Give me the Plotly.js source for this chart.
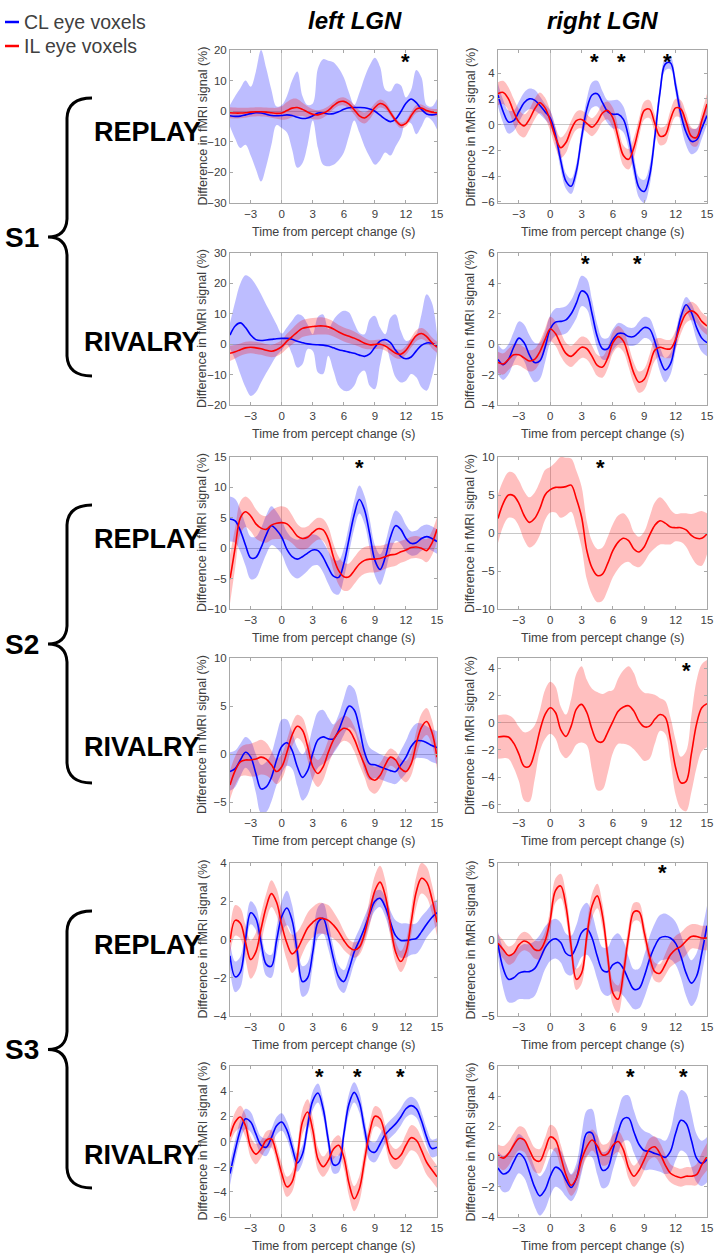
<!DOCTYPE html>
<html><head><meta charset="utf-8">
<script src="https://cdn.plot.ly/plotly-3.0.1.min.js"></script>
<style>html,body{margin:0;padding:0;background:#fff}#chart{width:715px;height:1253px}</style>
</head><body><div id="chart"></div>
<script>
// ---------------- DATA ----------------
const timeS = [-5,-4.5,-4,-3.5,-3,-2.5,-2,-1.5,-1,-0.5,0,0.5,1,1.5,2,2.5,3,3.5,4,4.5,5,5.5,6,6.5,7,7.5,8,8.5,9,9.5,10,10.5,11,11.5,12,12.5,13,13.5,14,14.5,15];
const xTickVals = [-3,0,3,6,9,12,15];

// S1 REPLAY left LGN
const s1ReplayLeftCL   = [-1.5,-1.7,-1.6,-1.2,-0.8,-0.5,-0.6,-1.0,-1.4,-1.5,-1.4,-1.2,-1.4,-2.0,-2.4,-2.2,-1.5,-0.6,-0.6,-0.9,-0.8,-0.2,0.6,1.1,1.2,1.2,1.1,0.7,0.0,-1.3,-2.6,-3.4,-2.6,-0.2,2.6,4.0,2.8,0.6,-0.9,-1.2,-0.9];
const s1ReplayLeftCLHi = [2,5,7.5,10,8,13,20,14,7,1.5,2,5,10,13,5,2,2.5,14,17,16.5,16,14,11,6,2,6,11,15,17.5,14.5,7,6.5,9,8.5,4.5,7,13.5,11,2,1.5,4];
const s1ReplayLeftCLLo = [-5,-9,-12,-11,-14.5,-19,-23,-18,-11,-4.5,-5.5,-7,-12.5,-18.5,-17,-11,-3,-12,-17.5,-18,-17.5,-16,-13.5,-8,-3,-7,-11.5,-15,-17.5,-16,-13.5,-14.5,-11.5,-8.5,-3.5,-4,-7.5,-5,-2,-3,-6];
const s1ReplayLeftIL   = [-0.5,-0.6,-0.6,-0.5,-0.3,-0.2,-0.2,-0.3,-0.5,-0.7,-0.6,0.2,1.0,1.2,0.6,-0.3,-1.0,-1.2,-0.7,0.3,1.8,3.0,3.2,2.3,0.5,-1.5,-2.2,-1.0,1.2,2.5,1.8,-0.5,-3.0,-4.6,-4.0,-1.5,0.7,1.0,0.2,-0.3,-0.5];
const s1ReplayLeftILErr= [1.8,1.8,1.7,1.6,1.5,1.5,1.5,1.5,1.6,1.8,2.2,2.8,3.0,2.8,2.2,1.8,1.6,1.5,1.4,1.3,1.2,1.2,1.3,1.4,1.6,1.8,1.8,1.6,1.4,1.3,1.2,1.0,0.9,0.9,1.0,1.2,1.3,1.2,1.1,1.1,1.2];

// S1 REPLAY right LGN
const s1ReplayRightCL   = [2.3,1.0,0.2,0.3,1.0,1.7,2.0,1.9,1.5,1.0,0.5,-0.8,-2.8,-4.4,-4.8,-3.6,-1.0,1.2,2.3,2.4,1.7,1.0,0.8,0.8,0.4,-1.0,-3.2,-4.9,-5.2,-4.0,-1.0,2.5,4.7,4.8,3.0,0.8,-0.6,-1.3,-1.2,-0.3,0.7];
const s1ReplayRightCLErr= [0.9,0.9,0.9,0.8,0.8,0.8,0.8,0.8,0.7,0.6,0.6,0.6,0.7,0.6,0.6,0.6,0.7,0.8,1.0,1.0,0.9,0.9,1.1,1.1,1.0,0.9,0.8,0.8,0.9,0.8,0.7,0.6,0.5,0.5,0.6,0.8,1.0,1.0,0.9,0.8,0.7];
const s1ReplayRightIL   = [2.4,2.5,2.0,1.0,0.2,-0.1,0.4,1.2,1.7,1.3,0.3,-1.0,-1.8,-1.4,-0.4,0.3,0.4,0.1,-0.2,0.2,0.9,1.1,0.5,-1.0,-2.4,-2.7,-1.8,-0.2,1.1,1.2,0.1,-0.9,-0.8,0.4,1.3,1.2,0.2,-0.9,-1.0,0.3,1.6];
const s1ReplayRightILErr= [0.9,0.9,0.9,1.0,1.0,0.9,0.8,0.8,0.8,0.8,0.8,0.8,0.8,0.8,0.7,0.7,0.7,0.7,0.7,0.7,0.7,0.7,0.8,0.8,0.8,0.8,0.8,0.7,0.7,0.7,0.7,0.7,0.7,0.7,0.7,0.7,0.7,0.7,0.7,0.7,0.8];

// S1 RIVALRY left LGN
const s1RivalryLeftCL   = [3.0,6.0,7.0,5.5,3.0,1.5,1.2,1.4,1.6,1.8,1.9,1.9,1.6,1.0,0.5,0.1,-0.1,-0.2,-0.3,-0.6,-1.2,-1.8,-2.2,-2.6,-3.0,-3.6,-4.0,-3.2,-1.0,1.0,1.5,0.5,-2.0,-4.0,-4.8,-4.2,-2.2,-0.4,0.4,0.3,-0.5];
const s1RivalryLeftCLHi = [7,14,20,22.7,21.8,19.5,16.4,13,9.8,6.5,3.5,5.5,7.7,9.8,9.3,6.5,3.3,9,9.8,5,8,10,11,10.4,7,3.8,3.3,8.2,9.3,5.5,3.3,8.7,9.8,4.4,1.1,1.6,3.3,9.8,16.4,13.7,3.3];
const s1RivalryLeftCLLo = [-1.6,-5,-9.8,-14.2,-17,-15.8,-12.6,-9.5,-6.6,-3.8,-2,0,-3.3,-7.7,-6.6,-1.6,-2.2,-9.3,-9.8,-3.8,-8.7,-13.7,-15.3,-15.3,-13.7,-9.8,-8.7,-13.7,-14.8,-6.6,0,-5.5,-10.9,-12.6,-12,-9.8,-10.9,-14.2,-15.3,-10.9,-2.7];
const s1RivalryLeftIL   = [-3.0,-2.5,-1.8,-1.2,-1.0,-1.2,-1.5,-2.0,-2.3,-1.8,-0.8,1.0,2.5,4.0,5.2,5.6,5.8,6.0,6.0,5.7,5.0,4.0,3.2,2.6,2.0,1.2,0.3,-0.2,-0.1,0.0,-0.6,-1.8,-3.0,-3.3,-2.0,0.5,2.8,3.5,2.5,0.5,-1.0];
const s1RivalryLeftILErr= [2.5,2.2,2.0,2.0,2.0,2.0,2.0,2.0,2.0,2.2,2.2,2.4,2.6,2.8,2.8,2.8,2.8,2.8,2.8,2.6,2.5,2.3,2.3,2.3,2.2,2.0,1.8,1.5,1.5,1.5,1.5,1.5,1.5,1.5,1.5,1.6,1.8,1.8,1.8,1.8,1.8];

// S1 RIVALRY right LGN
const s1RivalryRightCL   = [-1.0,-1.35,-1.0,-0.2,0.4,0.1,-0.7,-1.2,-1.1,-0.2,1.0,1.45,1.5,1.6,2.0,2.7,3.5,3.3,2.0,0.5,-0.3,-0.3,0.3,0.7,0.7,0.5,0.5,0.8,1.1,1.0,0.2,-1.0,-1.7,-1.3,0.2,1.8,2.6,2.1,1.1,0.4,0.1];
const s1RivalryRightCLErr= [1.0,1.0,1.0,1.0,1.1,1.2,1.3,1.3,1.2,1.0,0.9,0.9,0.9,0.9,0.9,1.0,1.0,1.0,0.9,0.8,0.7,0.7,0.7,0.7,0.6,0.6,0.6,0.7,0.7,0.7,0.7,0.8,0.8,0.7,0.6,0.5,0.5,0.6,0.8,0.9,0.9];
const s1RivalryRightIL   = [-1.2,-1.3,-1.0,-0.7,-0.7,-0.9,-1.1,-1.0,-0.5,0.3,1.0,0.7,0.0,-0.6,-0.8,-0.5,-0.2,-0.3,-0.8,-1.4,-1.5,-0.9,0.1,0.5,0.2,-0.8,-1.9,-2.5,-2.3,-1.4,-0.4,-0.2,-0.3,-0.3,0.3,1.3,2.0,2.2,2.0,1.5,1.2];
const s1RivalryRightILErr= [0.7,0.7,0.7,0.7,0.7,0.7,0.7,0.7,0.7,0.7,0.8,0.8,0.8,0.7,0.7,0.7,0.7,0.7,0.7,0.7,0.7,0.7,0.7,0.7,0.7,0.7,0.7,0.7,0.7,0.7,0.7,0.6,0.6,0.6,0.6,0.6,0.6,0.6,0.6,0.6,0.6];

// S2 REPLAY left LGN
const s2ReplayLeftCL   = [4.8,4.5,2.9,0.5,-1.6,-1.5,0.1,2.2,3.7,3.0,1.8,-0.2,-1.4,-1.8,-1.4,-0.8,-0.3,-0.4,-1.5,-3.2,-4.6,-4.8,-2.5,1.5,5.5,8.0,6.3,2.3,-2.0,-3.5,-1.5,1.8,3.7,3.1,1.6,0.8,0.9,1.6,1.9,1.6,1.1];
const s2ReplayLeftCLErr= [3.7,3.6,3.5,3.4,3.5,3.4,3.2,3.2,3.2,3.0,2.8,2.9,3.1,3.2,3.1,2.9,2.6,2.4,2.5,2.7,2.8,2.8,2.5,2.3,2.3,2.3,2.3,2.4,2.5,2.5,2.4,2.4,2.5,2.4,2.2,2.0,2.0,2.0,2.0,2.0,2.0];
const s2ReplayLeftIL   = [-5.1,0.1,5.0,6.0,5.3,4.0,3.3,3.1,3.8,4.1,4.2,4.0,3.1,2.0,1.6,1.8,2.6,3.2,3.0,1.5,-1.5,-3.7,-4.7,-4.7,-3.7,-2.6,-2.0,-1.8,-1.8,-1.7,-1.4,-1.1,-1.0,-0.6,-0.3,0.1,0.2,0.0,-0.4,0.8,3.1];
const s2ReplayLeftILErr= [4.0,3.3,2.7,2.5,2.5,2.4,2.2,2.2,2.4,2.6,2.7,2.6,2.3,2.0,1.8,1.8,1.8,1.8,1.8,2.0,2.2,2.3,2.3,2.2,2.2,2.2,2.2,2.2,2.2,2.1,2.0,2.0,1.9,1.8,1.8,1.8,1.8,1.8,1.9,2.0,2.0];

// S2 REPLAY right LGN (IL only)
const s2ReplayRightIL   = [1.9,3.9,5.0,4.9,3.9,2.3,1.4,1.9,3.2,5.0,5.7,6.0,6.0,6.1,6.3,4.5,2.1,-2.3,-4.6,-5.6,-5.4,-4.0,-2.3,-1.2,-0.7,-1.0,-2.1,-2.5,-1.8,-0.3,1.0,1.6,1.3,0.8,0.7,0.7,0.4,-0.3,-0.7,-0.7,-0.1];
const s2ReplayRightILErr= [3.2,3.0,3.0,3.0,3.0,3.2,3.3,3.4,3.5,3.3,3.0,3.3,4.0,3.8,3.5,3.7,4.0,3.8,3.5,3.5,3.5,3.5,3.5,3.5,3.3,2.8,2.2,2.0,2.0,2.4,3.0,3.1,2.8,2.3,1.8,1.9,2.2,2.8,3.4,3.6,2.7];

// S2 RIVALRY left LGN
const s2RivalryLeftCL   = [-1.8,-1.5,-0.6,0.2,-0.3,-2.0,-3.6,-3.4,-2.4,-0.6,0.8,1.2,0.4,-1.3,-2.4,-1.7,0.1,1.5,1.8,1.6,1.6,2.5,3.9,5.0,4.6,2.7,0.2,-1.0,-1.1,-1.3,-1.5,-1.7,-1.8,-1.1,-0.3,0.8,1.4,1.4,1.2,0.9,0.7];
const s2RivalryLeftCLErr= [2.0,1.9,1.7,1.6,1.7,2.0,2.5,2.6,2.5,2.6,2.8,2.4,1.9,2.0,2.4,2.5,2.7,2.9,2.8,2.2,1.5,1.6,1.9,2.2,2.2,2.1,2.0,1.7,1.4,1.3,1.3,1.3,1.3,1.5,1.7,1.8,1.8,1.8,1.7,1.7,1.7];
const s2RivalryLeftIL   = [-3.2,-1.7,-0.8,-0.6,-0.6,-0.5,-0.3,-0.5,-1.1,-1.8,-1.3,0.2,2.0,2.9,2.5,0.8,-1.3,-2.0,-1.3,0.2,1.5,2.3,2.7,2.5,1.6,0.2,-1.1,-2.4,-2.7,-2.2,-1.1,-0.3,-0.6,-1.5,-1.8,-1.0,1.1,2.8,3.4,2.3,-0.3];
const s2RivalryLeftILErr= [1.5,1.5,1.5,1.6,1.7,1.8,1.8,1.7,1.5,1.3,1.3,1.3,1.2,1.2,1.3,1.4,1.4,1.4,1.4,1.3,1.3,1.3,1.3,1.3,1.3,1.3,1.3,1.4,1.4,1.3,1.1,0.9,0.9,1.0,1.1,1.2,1.3,1.4,1.4,1.3,1.2];

// S2 RIVALRY right LGN (IL only)
const s2RivalryRightIL   = [-1.05,-1.0,-1.05,-1.5,-2.3,-3.2,-3.2,-2.2,-0.6,0.6,1.1,0.75,-0.5,-1.0,-0.25,1.0,1.35,0.75,-0.5,-1.35,-1.4,-0.7,0.1,0.85,1.15,1.25,0.85,0.1,-0.3,-0.25,0.25,0.6,0.4,-1.2,-3.3,-4.4,-4.3,-2.3,-0.1,1.1,1.4];
const s2RivalryRightILErr= [1.6,1.6,1.6,1.8,2.0,2.5,2.6,2.0,1.5,1.8,1.9,1.9,1.7,1.6,2.0,2.6,2.8,2.4,3.0,3.6,3.5,3.0,2.3,2.4,2.7,2.9,2.8,2.5,2.5,2.4,1.8,1.2,1.2,1.6,2.0,1.9,2.2,2.8,3.2,3.2,3.2];

// S3 REPLAY left LGN
const s3ReplayLeftCL   = [-0.85,-1.95,-1.7,0.0,1.4,1.1,-0.15,-1.3,-1.4,-0.05,1.2,1.65,1.0,-0.65,-2.2,-2.0,-0.65,0.9,1.1,0.2,-1.0,-1.95,-2.2,-1.55,-0.65,-0.05,0.6,1.35,2.0,2.15,1.7,0.9,0.2,-0.05,-0.05,0.0,0.05,0.4,0.8,1.15,1.4];
const s3ReplayLeftCLErr= [0.7,0.8,0.8,0.7,0.6,0.6,0.6,0.6,0.6,0.7,0.8,0.9,0.8,0.7,0.8,0.8,0.7,0.8,0.8,0.7,0.6,0.6,0.6,0.6,0.6,0.6,0.6,0.5,0.5,0.45,0.5,0.6,0.8,0.9,0.9,0.8,0.8,0.8,0.7,0.7,0.7];
const s3ReplayLeftIL   = [-0.15,1.0,0.85,-0.15,-1.05,-0.65,0.55,1.7,2.4,1.95,0.75,-0.2,-0.75,-0.5,0.05,0.6,0.9,1.1,1.1,1.0,0.75,0.4,-0.05,-0.4,-0.55,-0.4,0.3,1.45,2.55,3.0,2.3,0.75,-0.65,-1.15,-0.65,0.9,2.5,3.2,3.0,2.15,0.9];
const s3ReplayLeftILErr= [0.6,0.8,0.8,0.9,1.0,1.0,0.8,0.7,0.7,0.7,0.8,0.9,1.0,0.9,0.8,0.8,0.8,0.8,0.8,0.8,0.7,0.6,0.5,0.4,0.4,0.4,0.5,0.7,0.8,0.85,0.8,0.6,0.55,0.55,0.6,0.7,0.8,0.8,0.8,0.75,0.7];

// S3 REPLAY right LGN
const s3ReplayRightCL   = [-0.3,-1.9,-2.6,-2.5,-2.2,-2.1,-2.1,-1.9,-1.3,-0.55,-0.1,0.05,-0.2,-0.9,-1.05,-0.45,0.45,0.7,0.1,-1.1,-2.0,-2.1,-1.65,-1.5,-1.9,-2.65,-3.25,-3.2,-2.4,-1.3,-0.45,0.1,0.2,0.1,-0.25,-1.1,-2.2,-2.85,-2.4,-0.9,0.9];
const s3ReplayRightCLErr= [0.8,1.3,1.5,1.6,1.7,1.8,1.8,1.8,1.6,1.4,1.3,1.3,1.3,1.3,1.3,1.4,1.6,1.7,1.6,1.5,1.5,1.6,1.8,1.9,1.8,1.5,1.3,1.3,1.4,1.5,1.5,1.5,1.5,1.4,1.4,1.4,1.5,1.5,1.5,1.4,1.3];
const s3ReplayRightIL   = [-0.25,-0.65,-1.05,-0.9,-0.35,-0.1,-0.25,-0.65,-0.7,-0.1,1.3,3.2,3.5,2.2,-0.45,-2.6,-2.2,0.2,2.2,2.85,1.55,-1.1,-3.5,-3.9,-2.2,0.2,1.8,1.8,0.45,-1.1,-2.1,-2.2,-1.65,-1.0,-0.65,-0.45,-0.1,0.2,0.2,0.1,0.1];
const s3ReplayRightILErr= [0.6,0.6,0.6,0.6,0.6,0.6,0.6,0.6,0.6,0.6,0.7,0.8,0.8,0.8,0.8,0.7,0.7,0.7,0.8,0.8,0.8,0.8,0.8,0.9,0.8,0.7,0.6,0.6,0.6,0.6,0.6,0.6,0.7,0.8,0.9,0.9,0.9,0.8,0.8,0.8,0.8];

// S3 RIVALRY left LGN
const s3RivalryLeftCL   = [-2.55,-0.7,0.9,1.8,1.55,0.6,-0.3,-0.45,0.3,1.25,1.55,0.9,-0.45,-1.7,-1.0,1.25,3.25,3.85,2.6,0.1,-1.85,-1.75,0.6,3.0,3.9,3.1,1.0,-0.7,-0.85,-0.2,0.55,1.0,1.4,1.95,2.6,2.85,2.6,1.65,0.35,-0.55,-0.45];
const s3RivalryLeftCLErr= [0.9,0.8,0.8,0.8,0.8,0.7,0.7,0.7,0.7,0.7,0.7,0.7,0.7,0.7,0.7,0.7,0.75,0.75,0.7,0.7,0.7,0.7,0.7,0.8,0.8,0.8,0.8,0.8,0.8,0.8,0.7,0.7,0.7,0.7,0.7,0.7,0.7,0.7,0.7,0.7,0.7];
const s3RivalryLeftIL   = [0.4,1.55,1.95,1.25,-0.45,-1.0,-0.6,0.1,0.2,-1.0,-2.55,-3.6,-3.2,-1.25,1.55,2.35,0.9,-1.4,-2.0,-1.5,-0.6,-0.3,-1.25,-3.35,-4.55,-3.75,-1.5,0.75,2.0,1.8,0.5,-1.0,-1.4,-1.1,-0.3,0.3,0.1,-0.7,-1.65,-2.25,-2.8];
const s3RivalryLeftILErr= [0.6,0.8,0.9,0.9,0.8,0.8,0.7,0.7,0.7,0.7,0.8,0.8,0.8,0.9,1.0,1.0,1.0,0.9,0.8,0.8,0.8,0.8,0.9,1.0,1.0,1.0,0.9,0.8,0.8,0.8,0.8,0.8,0.8,0.8,0.9,1.0,1.0,1.0,1.0,0.9,0.9];

// S3 RIVALRY right LGN
const s3RivalryRightCL   = [-0.75,-1.15,-1.0,-0.35,0.2,-0.1,-1.0,-2.0,-2.6,-2.2,-1.3,-0.7,-0.9,-1.55,-2.05,-1.45,0.2,1.55,1.55,0.2,-0.9,-0.75,0.45,1.65,2.5,2.55,1.65,0.8,0.4,0.35,0.2,0.1,-0.05,0.35,1.55,2.4,2.2,1.1,-0.1,-0.45,-0.2];
const s3RivalryRightCLErr= [1.1,1.2,1.3,1.3,1.3,1.3,1.3,1.3,1.3,1.3,1.3,1.3,1.3,1.1,0.9,1.0,1.3,1.5,1.6,1.4,1.2,1.2,1.3,1.4,1.5,1.5,1.4,1.3,1.3,1.2,1.1,1.1,1.1,1.4,1.8,2.0,2.0,1.8,1.6,1.5,1.5];
const s3RivalryRightIL   = [0.1,-0.1,0.2,0.75,1.2,1.1,0.45,-0.2,-0.3,0.45,1.3,1.1,0.0,-1.2,-1.9,-1.45,-0.2,0.65,1.1,0.7,0.1,0.2,0.75,1.0,0.45,-0.75,-1.3,-0.9,-0.2,0.5,0.65,0.2,-0.55,-1.1,-1.3,-1.4,-1.3,-1.3,-1.2,-0.55,0.0];
const s3RivalryRightILErr= [0.7,0.8,0.8,0.8,0.8,0.8,0.8,0.8,0.8,0.8,0.8,0.8,0.8,0.8,0.7,0.7,0.7,0.7,0.7,0.7,0.7,0.7,0.7,0.7,0.7,0.7,0.7,0.7,0.7,0.7,0.7,0.7,0.7,0.6,0.6,0.6,0.6,0.6,0.7,0.8,0.9];

// significance markers (time, s)
const s1ReplayLeftStars   = [12];
const s1ReplayRightStars  = [4.2, 6.8, 11.2];
const s1RivalryRightStars = [3.35, 8.35];
const s2ReplayLeftStars   = [7.5];
const s2ReplayRightStars  = [4.8];
const s2RivalryRightStars = [13.0];
const s3ReplayRightStars  = [10.7];
const s3RivalryLeftStars  = [3.6, 7.3, 11.45];
const s3RivalryRightStars = [7.7, 12.75];

const legendLabels = ['CL eye voxels', 'IL eye voxels'];
const columnLabels = ['left LGN', 'right LGN'];
const conditionLabels = ['REPLAY', 'RIVALRY'];
const subjectLabels = ['S1', 'S2', 'S3'];
const xAxisTitle = 'Time from percept change (s)';
const yAxisTitle = 'Difference in fMRI signal (%)';

// ---------------- LAYOUT / STYLE ----------------
const W = 715, H = 1253;
const BLUE = '#0000ff', RED = '#ff0000';
const BLUE_FILL = 'rgba(0,0,255,0.26)', RED_FILL = 'rgba(255,0,0,0.25)';
const FONT = 'Liberation Sans, Arial, sans-serif';
const colPx = [[230, 437], [498, 707]];
const rowPx = [[50, 203], [253, 405], [457, 609], [658, 812], [863, 1016], [1066, 1217]];
const px = v => v / W, py = v => 1 - v / H;

const panels = [
  {cl: s1ReplayLeftCL, clHi: s1ReplayLeftCLHi, clLo: s1ReplayLeftCLLo, il: s1ReplayLeftIL, ilErr: s1ReplayLeftILErr, yr: [-30, 20], dt: 10, stars: s1ReplayLeftStars, sy: 17.5},
  {cl: s1ReplayRightCL, clErr: s1ReplayRightCLErr, il: s1ReplayRightIL, ilErr: s1ReplayRightILErr, yr: [-6.1, 5.8], dt: 2, stars: s1ReplayRightStars, sy: 5.25},
  {cl: s1RivalryLeftCL, clHi: s1RivalryLeftCLHi, clLo: s1RivalryLeftCLLo, il: s1RivalryLeftIL, ilErr: s1RivalryLeftILErr, yr: [-20, 30], dt: 10, stars: [], sy: 0},
  {cl: s1RivalryRightCL, clErr: s1RivalryRightCLErr, il: s1RivalryRightIL, ilErr: s1RivalryRightILErr, yr: [-4, 6], dt: 2, stars: s1RivalryRightStars, sy: 5.6},
  {cl: s2ReplayLeftCL, clErr: s2ReplayLeftCLErr, il: s2ReplayLeftIL, ilErr: s2ReplayLeftILErr, yr: [-10, 15], dt: 5, stars: s2ReplayLeftStars, sy: 14},
  {il: s2ReplayRightIL, ilErr: s2ReplayRightILErr, yr: [-10, 10], dt: 5, stars: s2ReplayRightStars, sy: 9.2},
  {cl: s2RivalryLeftCL, clErr: s2RivalryLeftCLErr, il: s2RivalryLeftIL, ilErr: s2RivalryLeftILErr, yr: [-6, 10], dt: 5, stars: [], sy: 0},
  {il: s2RivalryRightIL, ilErr: s2RivalryRightILErr, yr: [-6.55, 4.75], dt: 2, stars: s2RivalryRightStars, sy: 4.15},
  {cl: s3ReplayLeftCL, clErr: s3ReplayLeftCLErr, il: s3ReplayLeftIL, ilErr: s3ReplayLeftILErr, yr: [-4, 4], dt: 2, stars: [], sy: 0},
  {cl: s3ReplayRightCL, clErr: s3ReplayRightCLErr, il: s3ReplayRightIL, ilErr: s3ReplayRightILErr, yr: [-5, 5], dt: 5, stars: s3ReplayRightStars, sy: 4.65},
  {cl: s3RivalryLeftCL, clErr: s3RivalryLeftCLErr, il: s3RivalryLeftIL, ilErr: s3RivalryLeftILErr, yr: [-6, 6], dt: 2, stars: s3RivalryLeftStars, sy: 5.5},
  {cl: s3RivalryRightCL, clErr: s3RivalryRightCLErr, il: s3RivalryRightIL, ilErr: s3RivalryRightILErr, yr: [-4, 6], dt: 2, stars: s3RivalryRightStars, sy: 5.6}
];

const traces = [];
const annotations = [];
const shapes = [];
const layout = {
  width: W, height: H, margin: {l: 0, r: 0, t: 0, b: 0},
  paper_bgcolor: '#fff', plot_bgcolor: '#fff', showlegend: false,
  font: {family: FONT, color: '#404040'}
};
const paperText = (x, y, text, font, extra) => Object.assign({
  x: px(x), y: py(y), xref: 'paper', yref: 'paper', xanchor: 'center', yanchor: 'middle',
  text: text, showarrow: false, font: font
}, extra || {});

panels.forEach((p, i) => {
  const r = Math.floor(i / 2), c = i % 2;
  const sfx = i === 0 ? '' : String(i + 1);
  const xa = 'x' + sfx, ya = 'y' + sfx;
  const axCommon = {
    showgrid: false, zeroline: true, zerolinecolor: '#c8c8c8', zerolinewidth: 1,
    showline: true, linecolor: '#a8a8a8', linewidth: 1, mirror: 'ticks',
    ticks: 'inside', ticklen: 3, tickcolor: '#a8a8a8',
    tickfont: {family: FONT, size: 11.5, color: '#404040'}, fixedrange: true
  };
  layout['xaxis' + sfx] = Object.assign({}, axCommon, {
    domain: [px(colPx[c][0]), px(colPx[c][1])], anchor: ya,
    range: [-5, 15], tickmode: 'array', tickvals: xTickVals
  });
  layout['yaxis' + sfx] = Object.assign({}, axCommon, {
    domain: [py(rowPx[r][1]), py(rowPx[r][0])], anchor: xa,
    range: p.yr, tickmode: 'linear', tick0: 0, dtick: p.dt
  });

  const band = (lo, hi, fill) => {
    traces.push({x: timeS, y: lo, xaxis: xa, yaxis: ya, mode: 'lines', line: {width: 0, shape: 'spline'}, hoverinfo: 'skip'});
    traces.push({x: timeS, y: hi, xaxis: xa, yaxis: ya, mode: 'lines', line: {width: 0, shape: 'spline'}, fill: 'tonexty', fillcolor: fill, hoverinfo: 'skip'});
  };
  if (p.cl) {
    const lo = p.clLo || p.cl.map((v, k) => v - p.clErr[k]);
    const hi = p.clHi || p.cl.map((v, k) => v + p.clErr[k]);
    band(lo, hi, BLUE_FILL);
  }
  band(p.il.map((v, k) => v - p.ilErr[k]), p.il.map((v, k) => v + p.ilErr[k]), RED_FILL);
  if (p.cl) traces.push({x: timeS, y: p.cl, xaxis: xa, yaxis: ya, mode: 'lines', line: {color: BLUE, width: 1.6, shape: 'spline'}, hoverinfo: 'skip'});
  traces.push({x: timeS, y: p.il, xaxis: xa, yaxis: ya, mode: 'lines', line: {color: RED, width: 1.6, shape: 'spline'}, hoverinfo: 'skip'});

  p.stars.forEach(t => annotations.push({
    x: t, y: p.sy, xref: xa, yref: ya, xanchor: 'center', yanchor: 'middle', text: '<b>*</b>', showarrow: false,
    font: {family: FONT, size: 22, color: '#000'}, yshift: -4
  }));

  // axis titles
  const cx = (colPx[c][0] + colPx[c][1]) / 2, cy = (rowPx[r][0] + rowPx[r][1]) / 2;
  annotations.push(paperText(cx, rowPx[r][1] + 29, xAxisTitle, {family: FONT, size: 12.5, color: '#404040'}));
  annotations.push(paperText(colPx[c][0] - 28, cy, yAxisTitle, {family: FONT, size: 12.5, color: '#404040'}, {textangle: -90}));
});

// column headers
annotations.push(paperText(355, 20, '<b><i>' + columnLabels[0] + '</i></b>', {family: FONT, size: 24, color: '#000'}));
annotations.push(paperText(602, 20, '<b><i>' + columnLabels[1] + '</i></b>', {family: FONT, size: 24, color: '#000'}));

// legend
[[22, BLUE, legendLabels[0]], [46, RED, legendLabels[1]]].forEach(([y, col, t]) => {
  shapes.push({type: 'line', xref: 'paper', yref: 'paper', x0: px(5), x1: px(19), y0: py(y), y1: py(y), line: {color: col, width: 2.5}});
  annotations.push(paperText(22, y, t, {family: FONT, size: 19.5, color: '#404040'}, {xanchor: 'left'}));
});

// subject braces, subject & condition labels
subjectLabels.forEach((s, k) => {
  const yt = rowPx[2 * k][0] + 48, yb = rowPx[2 * k + 1][1] - 29, ym = (yt + yb) / 2;
  const P = (x, y) => px(x).toFixed(5) + ',' + py(y).toFixed(5);
  const path = 'M' + P(92, yt) + ' Q' + P(68, yt) + ' ' + P(67, yt + 20) +
    ' L' + P(67, ym - 18) + ' Q' + P(66, ym) + ' ' + P(48, ym) +
    ' Q' + P(66, ym) + ' ' + P(67, ym + 18) + ' L' + P(67, yb - 20) +
    ' Q' + P(68, yb) + ' ' + P(92, yb);
  shapes.push({type: 'path', xref: 'paper', yref: 'paper', path: path, line: {color: '#000', width: 3}});
  annotations.push(paperText(22, ym, '<b>' + s + '</b>', {family: FONT, size: 28, color: '#000'}));
  conditionLabels.forEach((cnd, j) => {
    const rr = rowPx[2 * k + j];
    annotations.push(paperText(j === 0 ? 147 : 142, rr[0] + 82 + (j === 1 ? 7 : 0), '<b>' + cnd + '</b>',
      {family: FONT, size: 27, color: '#000'}));
  });
});

layout.annotations = annotations;
layout.shapes = shapes;
Plotly.newPlot('chart', traces, layout, {displayModeBar: false, staticPlot: true});
</script>
</body></html>
